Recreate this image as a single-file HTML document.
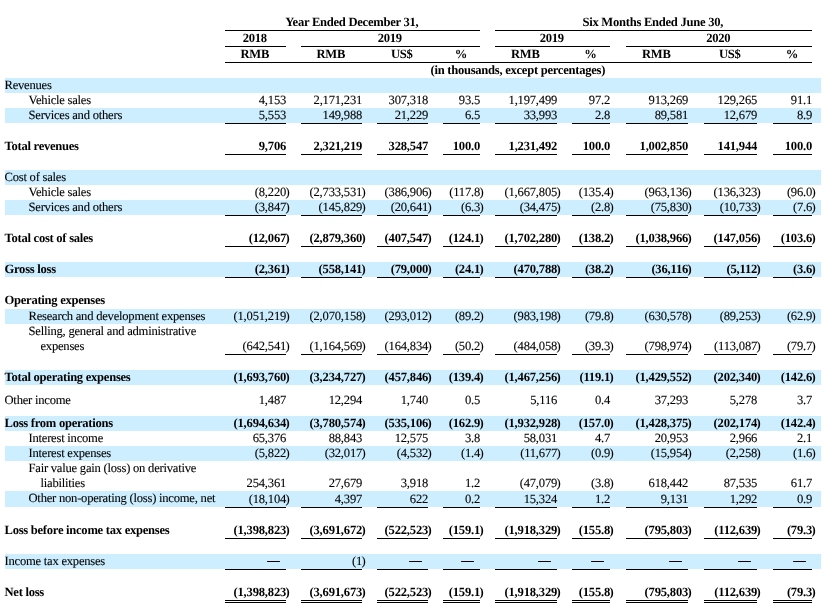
<!DOCTYPE html>
<html lang="en"><head><meta charset="utf-8"><title>Summary Consolidated Statements of Comprehensive Loss</title>
<style>
html,body{margin:0;padding:0;background:#fff;}
body{width:822px;height:613px;position:relative;overflow:hidden;font-family:'Liberation Serif', 'Times New Roman', serif;font-size:12.6px;text-rendering:geometricPrecision;color:#000;}
.bg{position:absolute;left:5px;width:816px;background:#cceeff;}
.ln{position:absolute;background:#000;}
.t{position:absolute;line-height:15px;height:15px;white-space:nowrap;letter-spacing:-0.2px;-webkit-text-stroke:0.1px #000;}
.b{font-weight:bold;-webkit-text-stroke:0;}
.c{text-align:center;}
.r{text-align:right;}
.lab{letter-spacing:-0.23px;}
.lab.b{letter-spacing:-0.27px;}
.d{-webkit-text-stroke:0.5px #000;font-size:12px;text-rendering:auto;letter-spacing:0;}
</style></head><body>
<div class="t c lab b" style="top:15px;left:184.3px;width:335px">Year Ended December 31,</div>
<div class="t c lab b" style="top:15px;left:454.3px;width:397px">Six Months Ended June 30,</div>
<div class="ln" style="top:30px;left:225px;width:255px;height:1px"></div>
<div class="ln" style="top:30px;left:495px;width:317px;height:1px"></div>
<div class="t c lab b" style="top:31px;left:184.3px;width:141px">2018</div>
<div class="ln" style="top:46px;left:225px;width:61px;height:1px"></div>
<div class="t c lab b" style="top:31px;left:260.3px;width:259px">2019</div>
<div class="ln" style="top:46px;left:301px;width:179px;height:1px"></div>
<div class="t c lab b" style="top:31px;left:454.3px;width:195px">2019</div>
<div class="ln" style="top:46px;left:495px;width:115px;height:1px"></div>
<div class="t c lab b" style="top:31px;left:585.3px;width:266px">2020</div>
<div class="ln" style="top:46px;left:626px;width:186px;height:1px"></div>
<div class="t c lab b" style="top:47px;left:184.3px;width:141px">RMB</div>
<div class="t c lab b" style="top:47px;left:260.3px;width:141px">RMB</div>
<div class="t c lab b" style="top:47px;left:336.3px;width:131px">US$</div>
<div class="t c lab b" style="top:47px;left:402.3px;width:117px">%</div>
<div class="t c lab b" style="top:47px;left:454.3px;width:142px">RMB</div>
<div class="t c lab b" style="top:47px;left:531.3px;width:118px">%</div>
<div class="t c lab b" style="top:47px;left:585.3px;width:142px">RMB</div>
<div class="t c lab b" style="top:47px;left:663.3px;width:133px">US$</div>
<div class="t c lab b" style="top:47px;left:732.3px;width:119px">%</div>
<div class="ln" style="top:62px;left:225px;width:587px;height:1px"></div>
<div class="t c lab b" style="top:63px;left:184.3px;width:667px">(in thousands, except percentages)</div>
<div class="bg" style="top:78px;height:15px"></div>
<div class="bg" style="top:108px;height:15px"></div>
<div class="bg" style="top:170px;height:15px"></div>
<div class="bg" style="top:200px;height:15px"></div>
<div class="bg" style="top:262px;height:15px"></div>
<div class="bg" style="top:309px;height:15px"></div>
<div class="bg" style="top:370px;height:15px"></div>
<div class="bg" style="top:416px;height:15px"></div>
<div class="bg" style="top:446px;height:15px"></div>
<div class="bg" style="top:491px;height:16px"></div>
<div class="bg" style="top:554px;height:15px"></div>
<div class="t lab" style="top:78px;left:4.5px">Revenues</div>
<div class="t lab" style="top:93px;left:28.5px">Vehicle sales</div>
<div class="t r" style="top:93px;right:535.9px">4,153</div>
<div class="t r" style="top:93px;right:459.9px">2,171,231</div>
<div class="t r" style="top:93px;right:393.9px">307,318</div>
<div class="t r" style="top:93px;right:341.9px">93.5</div>
<div class="t r" style="top:93px;right:264.9px">1,197,499</div>
<div class="t r" style="top:93px;right:211.9px">97.2</div>
<div class="t r" style="top:93px;right:133.9px">913,269</div>
<div class="t r" style="top:93px;right:64.9px">129,265</div>
<div class="t r" style="top:93px;right:9.9px">91.1</div>
<div class="t lab" style="top:108px;left:28.5px">Services and others</div>
<div class="t r" style="top:108px;right:535.9px">5,553</div>
<div class="t r" style="top:108px;right:459.9px">149,988</div>
<div class="t r" style="top:108px;right:393.9px">21,229</div>
<div class="t r" style="top:108px;right:341.9px">6.5</div>
<div class="t r" style="top:108px;right:264.9px">33,993</div>
<div class="t r" style="top:108px;right:211.9px">2.8</div>
<div class="t r" style="top:108px;right:133.9px">89,581</div>
<div class="t r" style="top:108px;right:64.9px">12,679</div>
<div class="t r" style="top:108px;right:9.9px">8.9</div>
<div class="ln" style="top:123px;left:225px;width:61px;height:1px"></div>
<div class="ln" style="top:123px;left:301px;width:61px;height:1px"></div>
<div class="ln" style="top:123px;left:377px;width:51px;height:1px"></div>
<div class="ln" style="top:123px;left:443px;width:37px;height:1px"></div>
<div class="ln" style="top:123px;left:495px;width:62px;height:1px"></div>
<div class="ln" style="top:123px;left:572px;width:38px;height:1px"></div>
<div class="ln" style="top:123px;left:626px;width:62px;height:1px"></div>
<div class="ln" style="top:123px;left:704px;width:53px;height:1px"></div>
<div class="ln" style="top:123px;left:773px;width:39px;height:1px"></div>
<div class="t lab b" style="top:139px;left:4.5px">Total revenues</div>
<div class="t r b" style="top:139px;right:535.9px">9,706</div>
<div class="t r b" style="top:139px;right:459.9px">2,321,219</div>
<div class="t r b" style="top:139px;right:393.9px">328,547</div>
<div class="t r b" style="top:139px;right:341.9px">100.0</div>
<div class="t r b" style="top:139px;right:264.9px">1,231,492</div>
<div class="t r b" style="top:139px;right:211.9px">100.0</div>
<div class="t r b" style="top:139px;right:133.9px">1,002,850</div>
<div class="t r b" style="top:139px;right:64.9px">141,944</div>
<div class="t r b" style="top:139px;right:9.9px">100.0</div>
<div class="ln" style="top:154px;left:225px;width:61px;height:1px"></div>
<div class="ln" style="top:154px;left:301px;width:61px;height:1px"></div>
<div class="ln" style="top:154px;left:377px;width:51px;height:1px"></div>
<div class="ln" style="top:154px;left:443px;width:37px;height:1px"></div>
<div class="ln" style="top:154px;left:495px;width:62px;height:1px"></div>
<div class="ln" style="top:154px;left:572px;width:38px;height:1px"></div>
<div class="ln" style="top:154px;left:626px;width:62px;height:1px"></div>
<div class="ln" style="top:154px;left:704px;width:53px;height:1px"></div>
<div class="ln" style="top:154px;left:773px;width:39px;height:1px"></div>
<div class="t lab" style="top:170px;left:4.5px">Cost of sales</div>
<div class="t lab" style="top:185px;left:28.5px">Vehicle sales</div>
<div class="t r" style="top:185px;right:535.9px">(8,220</div>
<div class="t" style="top:185px;left:285.5px">)</div>
<div class="t r" style="top:185px;right:459.9px">(2,733,531</div>
<div class="t" style="top:185px;left:361.5px">)</div>
<div class="t r" style="top:185px;right:393.9px">(386,906</div>
<div class="t" style="top:185px;left:427.5px">)</div>
<div class="t r" style="top:185px;right:341.9px">(117.8</div>
<div class="t" style="top:185px;left:479.5px">)</div>
<div class="t r" style="top:185px;right:264.9px">(1,667,805</div>
<div class="t" style="top:185px;left:556.5px">)</div>
<div class="t r" style="top:185px;right:211.9px">(135.4</div>
<div class="t" style="top:185px;left:609.5px">)</div>
<div class="t r" style="top:185px;right:133.9px">(963,136</div>
<div class="t" style="top:185px;left:687.5px">)</div>
<div class="t r" style="top:185px;right:64.9px">(136,323</div>
<div class="t" style="top:185px;left:756.5px">)</div>
<div class="t r" style="top:185px;right:9.9px">(96.0</div>
<div class="t" style="top:185px;left:811.5px">)</div>
<div class="t lab" style="top:200px;left:28.5px">Services and others</div>
<div class="t r" style="top:200px;right:535.9px">(3,847</div>
<div class="t" style="top:200px;left:285.5px">)</div>
<div class="t r" style="top:200px;right:459.9px">(145,829</div>
<div class="t" style="top:200px;left:361.5px">)</div>
<div class="t r" style="top:200px;right:393.9px">(20,641</div>
<div class="t" style="top:200px;left:427.5px">)</div>
<div class="t r" style="top:200px;right:341.9px">(6.3</div>
<div class="t" style="top:200px;left:479.5px">)</div>
<div class="t r" style="top:200px;right:264.9px">(34,475</div>
<div class="t" style="top:200px;left:556.5px">)</div>
<div class="t r" style="top:200px;right:211.9px">(2.8</div>
<div class="t" style="top:200px;left:609.5px">)</div>
<div class="t r" style="top:200px;right:133.9px">(75,830</div>
<div class="t" style="top:200px;left:687.5px">)</div>
<div class="t r" style="top:200px;right:64.9px">(10,733</div>
<div class="t" style="top:200px;left:756.5px">)</div>
<div class="t r" style="top:200px;right:9.9px">(7.6</div>
<div class="t" style="top:200px;left:811.5px">)</div>
<div class="ln" style="top:215px;left:225px;width:61px;height:1px"></div>
<div class="ln" style="top:215px;left:301px;width:61px;height:1px"></div>
<div class="ln" style="top:215px;left:377px;width:51px;height:1px"></div>
<div class="ln" style="top:215px;left:443px;width:37px;height:1px"></div>
<div class="ln" style="top:215px;left:495px;width:62px;height:1px"></div>
<div class="ln" style="top:215px;left:572px;width:38px;height:1px"></div>
<div class="ln" style="top:215px;left:626px;width:62px;height:1px"></div>
<div class="ln" style="top:215px;left:704px;width:53px;height:1px"></div>
<div class="ln" style="top:215px;left:773px;width:39px;height:1px"></div>
<div class="t lab b" style="top:231px;left:4.5px">Total cost of sales</div>
<div class="t r b" style="top:231px;right:535.9px">(12,067</div>
<div class="t b" style="top:231px;left:285.5px">)</div>
<div class="t r b" style="top:231px;right:459.9px">(2,879,360</div>
<div class="t b" style="top:231px;left:361.5px">)</div>
<div class="t r b" style="top:231px;right:393.9px">(407,547</div>
<div class="t b" style="top:231px;left:427.5px">)</div>
<div class="t r b" style="top:231px;right:341.9px">(124.1</div>
<div class="t b" style="top:231px;left:479.5px">)</div>
<div class="t r b" style="top:231px;right:264.9px">(1,702,280</div>
<div class="t b" style="top:231px;left:556.5px">)</div>
<div class="t r b" style="top:231px;right:211.9px">(138.2</div>
<div class="t b" style="top:231px;left:609.5px">)</div>
<div class="t r b" style="top:231px;right:133.9px">(1,038,966</div>
<div class="t b" style="top:231px;left:687.5px">)</div>
<div class="t r b" style="top:231px;right:64.9px">(147,056</div>
<div class="t b" style="top:231px;left:756.5px">)</div>
<div class="t r b" style="top:231px;right:9.9px">(103.6</div>
<div class="t b" style="top:231px;left:811.5px">)</div>
<div class="ln" style="top:246px;left:225px;width:61px;height:1px"></div>
<div class="ln" style="top:246px;left:301px;width:61px;height:1px"></div>
<div class="ln" style="top:246px;left:377px;width:51px;height:1px"></div>
<div class="ln" style="top:246px;left:443px;width:37px;height:1px"></div>
<div class="ln" style="top:246px;left:495px;width:62px;height:1px"></div>
<div class="ln" style="top:246px;left:572px;width:38px;height:1px"></div>
<div class="ln" style="top:246px;left:626px;width:62px;height:1px"></div>
<div class="ln" style="top:246px;left:704px;width:53px;height:1px"></div>
<div class="ln" style="top:246px;left:773px;width:39px;height:1px"></div>
<div class="t lab b" style="top:262px;left:4.5px">Gross loss</div>
<div class="t r b" style="top:262px;right:535.9px">(2,361</div>
<div class="t b" style="top:262px;left:285.5px">)</div>
<div class="t r b" style="top:262px;right:459.9px">(558,141</div>
<div class="t b" style="top:262px;left:361.5px">)</div>
<div class="t r b" style="top:262px;right:393.9px">(79,000</div>
<div class="t b" style="top:262px;left:427.5px">)</div>
<div class="t r b" style="top:262px;right:341.9px">(24.1</div>
<div class="t b" style="top:262px;left:479.5px">)</div>
<div class="t r b" style="top:262px;right:264.9px">(470,788</div>
<div class="t b" style="top:262px;left:556.5px">)</div>
<div class="t r b" style="top:262px;right:211.9px">(38.2</div>
<div class="t b" style="top:262px;left:609.5px">)</div>
<div class="t r b" style="top:262px;right:133.9px">(36,116</div>
<div class="t b" style="top:262px;left:687.5px">)</div>
<div class="t r b" style="top:262px;right:64.9px">(5,112</div>
<div class="t b" style="top:262px;left:756.5px">)</div>
<div class="t r b" style="top:262px;right:9.9px">(3.6</div>
<div class="t b" style="top:262px;left:811.5px">)</div>
<div class="ln" style="top:277px;left:225px;width:61px;height:1px"></div>
<div class="ln" style="top:277px;left:301px;width:61px;height:1px"></div>
<div class="ln" style="top:277px;left:377px;width:51px;height:1px"></div>
<div class="ln" style="top:277px;left:443px;width:37px;height:1px"></div>
<div class="ln" style="top:277px;left:495px;width:62px;height:1px"></div>
<div class="ln" style="top:277px;left:572px;width:38px;height:1px"></div>
<div class="ln" style="top:277px;left:626px;width:62px;height:1px"></div>
<div class="ln" style="top:277px;left:704px;width:53px;height:1px"></div>
<div class="ln" style="top:277px;left:773px;width:39px;height:1px"></div>
<div class="t lab b" style="top:293px;left:4.5px">Operating expenses</div>
<div class="t lab" style="top:309px;left:28.5px">Research and development expenses</div>
<div class="t r" style="top:309px;right:535.9px">(1,051,219</div>
<div class="t" style="top:309px;left:285.5px">)</div>
<div class="t r" style="top:309px;right:459.9px">(2,070,158</div>
<div class="t" style="top:309px;left:361.5px">)</div>
<div class="t r" style="top:309px;right:393.9px">(293,012</div>
<div class="t" style="top:309px;left:427.5px">)</div>
<div class="t r" style="top:309px;right:341.9px">(89.2</div>
<div class="t" style="top:309px;left:479.5px">)</div>
<div class="t r" style="top:309px;right:264.9px">(983,198</div>
<div class="t" style="top:309px;left:556.5px">)</div>
<div class="t r" style="top:309px;right:211.9px">(79.8</div>
<div class="t" style="top:309px;left:609.5px">)</div>
<div class="t r" style="top:309px;right:133.9px">(630,578</div>
<div class="t" style="top:309px;left:687.5px">)</div>
<div class="t r" style="top:309px;right:64.9px">(89,253</div>
<div class="t" style="top:309px;left:756.5px">)</div>
<div class="t r" style="top:309px;right:9.9px">(62.9</div>
<div class="t" style="top:309px;left:811.5px">)</div>
<div class="t lab" style="top:324px;left:28.5px">Selling, general and administrative</div>
<div class="t lab" style="top:339px;left:40.5px">expenses</div>
<div class="t r" style="top:339px;right:535.9px">(642,541</div>
<div class="t" style="top:339px;left:285.5px">)</div>
<div class="t r" style="top:339px;right:459.9px">(1,164,569</div>
<div class="t" style="top:339px;left:361.5px">)</div>
<div class="t r" style="top:339px;right:393.9px">(164,834</div>
<div class="t" style="top:339px;left:427.5px">)</div>
<div class="t r" style="top:339px;right:341.9px">(50.2</div>
<div class="t" style="top:339px;left:479.5px">)</div>
<div class="t r" style="top:339px;right:264.9px">(484,058</div>
<div class="t" style="top:339px;left:556.5px">)</div>
<div class="t r" style="top:339px;right:211.9px">(39.3</div>
<div class="t" style="top:339px;left:609.5px">)</div>
<div class="t r" style="top:339px;right:133.9px">(798,974</div>
<div class="t" style="top:339px;left:687.5px">)</div>
<div class="t r" style="top:339px;right:64.9px">(113,087</div>
<div class="t" style="top:339px;left:756.5px">)</div>
<div class="t r" style="top:339px;right:9.9px">(79.7</div>
<div class="t" style="top:339px;left:811.5px">)</div>
<div class="ln" style="top:354px;left:225px;width:61px;height:1px"></div>
<div class="ln" style="top:354px;left:301px;width:61px;height:1px"></div>
<div class="ln" style="top:354px;left:377px;width:51px;height:1px"></div>
<div class="ln" style="top:354px;left:443px;width:37px;height:1px"></div>
<div class="ln" style="top:354px;left:495px;width:62px;height:1px"></div>
<div class="ln" style="top:354px;left:572px;width:38px;height:1px"></div>
<div class="ln" style="top:354px;left:626px;width:62px;height:1px"></div>
<div class="ln" style="top:354px;left:704px;width:53px;height:1px"></div>
<div class="ln" style="top:354px;left:773px;width:39px;height:1px"></div>
<div class="t lab b" style="top:370px;left:4.5px">Total operating expenses</div>
<div class="t r b" style="top:370px;right:535.9px">(1,693,760</div>
<div class="t b" style="top:370px;left:285.5px">)</div>
<div class="t r b" style="top:370px;right:459.9px">(3,234,727</div>
<div class="t b" style="top:370px;left:361.5px">)</div>
<div class="t r b" style="top:370px;right:393.9px">(457,846</div>
<div class="t b" style="top:370px;left:427.5px">)</div>
<div class="t r b" style="top:370px;right:341.9px">(139.4</div>
<div class="t b" style="top:370px;left:479.5px">)</div>
<div class="t r b" style="top:370px;right:264.9px">(1,467,256</div>
<div class="t b" style="top:370px;left:556.5px">)</div>
<div class="t r b" style="top:370px;right:211.9px">(119.1</div>
<div class="t b" style="top:370px;left:609.5px">)</div>
<div class="t r b" style="top:370px;right:133.9px">(1,429,552</div>
<div class="t b" style="top:370px;left:687.5px">)</div>
<div class="t r b" style="top:370px;right:64.9px">(202,340</div>
<div class="t b" style="top:370px;left:756.5px">)</div>
<div class="t r b" style="top:370px;right:9.9px">(142.6</div>
<div class="t b" style="top:370px;left:811.5px">)</div>
<div class="t lab" style="top:393px;left:4.5px">Other income</div>
<div class="t r" style="top:393px;right:535.9px">1,487</div>
<div class="t r" style="top:393px;right:459.9px">12,294</div>
<div class="t r" style="top:393px;right:393.9px">1,740</div>
<div class="t r" style="top:393px;right:341.9px">0.5</div>
<div class="t r" style="top:393px;right:264.9px">5,116</div>
<div class="t r" style="top:393px;right:211.9px">0.4</div>
<div class="t r" style="top:393px;right:133.9px">37,293</div>
<div class="t r" style="top:393px;right:64.9px">5,278</div>
<div class="t r" style="top:393px;right:9.9px">3.7</div>
<div class="t lab b" style="top:416px;left:4.5px">Loss from operations</div>
<div class="t r b" style="top:416px;right:535.9px">(1,694,634</div>
<div class="t b" style="top:416px;left:285.5px">)</div>
<div class="t r b" style="top:416px;right:459.9px">(3,780,574</div>
<div class="t b" style="top:416px;left:361.5px">)</div>
<div class="t r b" style="top:416px;right:393.9px">(535,106</div>
<div class="t b" style="top:416px;left:427.5px">)</div>
<div class="t r b" style="top:416px;right:341.9px">(162.9</div>
<div class="t b" style="top:416px;left:479.5px">)</div>
<div class="t r b" style="top:416px;right:264.9px">(1,932,928</div>
<div class="t b" style="top:416px;left:556.5px">)</div>
<div class="t r b" style="top:416px;right:211.9px">(157.0</div>
<div class="t b" style="top:416px;left:609.5px">)</div>
<div class="t r b" style="top:416px;right:133.9px">(1,428,375</div>
<div class="t b" style="top:416px;left:687.5px">)</div>
<div class="t r b" style="top:416px;right:64.9px">(202,174</div>
<div class="t b" style="top:416px;left:756.5px">)</div>
<div class="t r b" style="top:416px;right:9.9px">(142.4</div>
<div class="t b" style="top:416px;left:811.5px">)</div>
<div class="t lab" style="top:431px;left:28.5px">Interest income</div>
<div class="t r" style="top:431px;right:535.9px">65,376</div>
<div class="t r" style="top:431px;right:459.9px">88,843</div>
<div class="t r" style="top:431px;right:393.9px">12,575</div>
<div class="t r" style="top:431px;right:341.9px">3.8</div>
<div class="t r" style="top:431px;right:264.9px">58,031</div>
<div class="t r" style="top:431px;right:211.9px">4.7</div>
<div class="t r" style="top:431px;right:133.9px">20,953</div>
<div class="t r" style="top:431px;right:64.9px">2,966</div>
<div class="t r" style="top:431px;right:9.9px">2.1</div>
<div class="t lab" style="top:446px;left:28.5px">Interest expenses</div>
<div class="t r" style="top:446px;right:535.9px">(5,822</div>
<div class="t" style="top:446px;left:285.5px">)</div>
<div class="t r" style="top:446px;right:459.9px">(32,017</div>
<div class="t" style="top:446px;left:361.5px">)</div>
<div class="t r" style="top:446px;right:393.9px">(4,532</div>
<div class="t" style="top:446px;left:427.5px">)</div>
<div class="t r" style="top:446px;right:341.9px">(1.4</div>
<div class="t" style="top:446px;left:479.5px">)</div>
<div class="t r" style="top:446px;right:264.9px">(11,677</div>
<div class="t" style="top:446px;left:556.5px">)</div>
<div class="t r" style="top:446px;right:211.9px">(0.9</div>
<div class="t" style="top:446px;left:609.5px">)</div>
<div class="t r" style="top:446px;right:133.9px">(15,954</div>
<div class="t" style="top:446px;left:687.5px">)</div>
<div class="t r" style="top:446px;right:64.9px">(2,258</div>
<div class="t" style="top:446px;left:756.5px">)</div>
<div class="t r" style="top:446px;right:9.9px">(1.6</div>
<div class="t" style="top:446px;left:811.5px">)</div>
<div class="t lab" style="top:461px;left:28.5px">Fair value gain (loss) on derivative</div>
<div class="t lab" style="top:476px;left:40.5px">liabilities</div>
<div class="t r" style="top:476px;right:535.9px">254,361</div>
<div class="t r" style="top:476px;right:459.9px">27,679</div>
<div class="t r" style="top:476px;right:393.9px">3,918</div>
<div class="t r" style="top:476px;right:341.9px">1.2</div>
<div class="t r" style="top:476px;right:264.9px">(47,079</div>
<div class="t" style="top:476px;left:556.5px">)</div>
<div class="t r" style="top:476px;right:211.9px">(3.8</div>
<div class="t" style="top:476px;left:609.5px">)</div>
<div class="t r" style="top:476px;right:133.9px">618,442</div>
<div class="t r" style="top:476px;right:64.9px">87,535</div>
<div class="t r" style="top:476px;right:9.9px">61.7</div>
<div class="t lab" style="top:491px;left:28.5px">Other non-operating (loss) income, net</div>
<div class="t r" style="top:492px;right:535.9px">(18,104</div>
<div class="t" style="top:492px;left:285.5px">)</div>
<div class="t r" style="top:492px;right:459.9px">4,397</div>
<div class="t r" style="top:492px;right:393.9px">622</div>
<div class="t r" style="top:492px;right:341.9px">0.2</div>
<div class="t r" style="top:492px;right:264.9px">15,324</div>
<div class="t r" style="top:492px;right:211.9px">1.2</div>
<div class="t r" style="top:492px;right:133.9px">9,131</div>
<div class="t r" style="top:492px;right:64.9px">1,292</div>
<div class="t r" style="top:492px;right:9.9px">0.9</div>
<div class="ln" style="top:507px;left:225px;width:61px;height:1px"></div>
<div class="ln" style="top:507px;left:301px;width:61px;height:1px"></div>
<div class="ln" style="top:507px;left:377px;width:51px;height:1px"></div>
<div class="ln" style="top:507px;left:443px;width:37px;height:1px"></div>
<div class="ln" style="top:507px;left:495px;width:62px;height:1px"></div>
<div class="ln" style="top:507px;left:572px;width:38px;height:1px"></div>
<div class="ln" style="top:507px;left:626px;width:62px;height:1px"></div>
<div class="ln" style="top:507px;left:704px;width:53px;height:1px"></div>
<div class="ln" style="top:507px;left:773px;width:39px;height:1px"></div>
<div class="t lab b" style="top:523px;left:4.5px">Loss before income tax expenses</div>
<div class="t r b" style="top:523px;right:535.9px">(1,398,823</div>
<div class="t b" style="top:523px;left:285.5px">)</div>
<div class="t r b" style="top:523px;right:459.9px">(3,691,672</div>
<div class="t b" style="top:523px;left:361.5px">)</div>
<div class="t r b" style="top:523px;right:393.9px">(522,523</div>
<div class="t b" style="top:523px;left:427.5px">)</div>
<div class="t r b" style="top:523px;right:341.9px">(159.1</div>
<div class="t b" style="top:523px;left:479.5px">)</div>
<div class="t r b" style="top:523px;right:264.9px">(1,918,329</div>
<div class="t b" style="top:523px;left:556.5px">)</div>
<div class="t r b" style="top:523px;right:211.9px">(155.8</div>
<div class="t b" style="top:523px;left:609.5px">)</div>
<div class="t r b" style="top:523px;right:133.9px">(795,803</div>
<div class="t b" style="top:523px;left:687.5px">)</div>
<div class="t r b" style="top:523px;right:64.9px">(112,639</div>
<div class="t b" style="top:523px;left:756.5px">)</div>
<div class="t r b" style="top:523px;right:9.9px">(79.3</div>
<div class="t b" style="top:523px;left:811.5px">)</div>
<div class="ln" style="top:538px;left:225px;width:61px;height:1px"></div>
<div class="ln" style="top:538px;left:301px;width:61px;height:1px"></div>
<div class="ln" style="top:538px;left:377px;width:51px;height:1px"></div>
<div class="ln" style="top:538px;left:443px;width:37px;height:1px"></div>
<div class="ln" style="top:538px;left:495px;width:62px;height:1px"></div>
<div class="ln" style="top:538px;left:572px;width:38px;height:1px"></div>
<div class="ln" style="top:538px;left:626px;width:62px;height:1px"></div>
<div class="ln" style="top:538px;left:704px;width:53px;height:1px"></div>
<div class="ln" style="top:538px;left:773px;width:39px;height:1px"></div>
<div class="t lab" style="top:554px;left:4.5px">Income tax expenses</div>
<div class="t r d" style="top:553px;right:542.5px">—</div>
<div class="t r" style="top:554px;right:459.9px">(1</div>
<div class="t" style="top:554px;left:361.5px">)</div>
<div class="t r d" style="top:553px;right:400.5px">—</div>
<div class="t r d" style="top:553px;right:348.5px">—</div>
<div class="t r d" style="top:553px;right:271.5px">—</div>
<div class="t r d" style="top:553px;right:218.5px">—</div>
<div class="t r d" style="top:553px;right:140.5px">—</div>
<div class="t r d" style="top:553px;right:71.5px">—</div>
<div class="t r d" style="top:553px;right:16.5px">—</div>
<div class="ln" style="top:569px;left:225px;width:61px;height:1px"></div>
<div class="ln" style="top:569px;left:301px;width:61px;height:1px"></div>
<div class="ln" style="top:569px;left:377px;width:51px;height:1px"></div>
<div class="ln" style="top:569px;left:443px;width:37px;height:1px"></div>
<div class="ln" style="top:569px;left:495px;width:62px;height:1px"></div>
<div class="ln" style="top:569px;left:572px;width:38px;height:1px"></div>
<div class="ln" style="top:569px;left:626px;width:62px;height:1px"></div>
<div class="ln" style="top:569px;left:704px;width:53px;height:1px"></div>
<div class="ln" style="top:569px;left:773px;width:39px;height:1px"></div>
<div class="t lab b" style="top:585px;left:4.5px">Net loss</div>
<div class="t r b" style="top:585px;right:535.9px">(1,398,823</div>
<div class="t b" style="top:585px;left:285.5px">)</div>
<div class="t r b" style="top:585px;right:459.9px">(3,691,673</div>
<div class="t b" style="top:585px;left:361.5px">)</div>
<div class="t r b" style="top:585px;right:393.9px">(522,523</div>
<div class="t b" style="top:585px;left:427.5px">)</div>
<div class="t r b" style="top:585px;right:341.9px">(159.1</div>
<div class="t b" style="top:585px;left:479.5px">)</div>
<div class="t r b" style="top:585px;right:264.9px">(1,918,329</div>
<div class="t b" style="top:585px;left:556.5px">)</div>
<div class="t r b" style="top:585px;right:211.9px">(155.8</div>
<div class="t b" style="top:585px;left:609.5px">)</div>
<div class="t r b" style="top:585px;right:133.9px">(795,803</div>
<div class="t b" style="top:585px;left:687.5px">)</div>
<div class="t r b" style="top:585px;right:64.9px">(112,639</div>
<div class="t b" style="top:585px;left:756.5px">)</div>
<div class="t r b" style="top:585px;right:9.9px">(79.3</div>
<div class="t b" style="top:585px;left:811.5px">)</div>
<div class="ln" style="top:600px;left:225px;width:61px;height:1px"></div>
<div class="ln" style="top:602px;left:225px;width:61px;height:1px"></div>
<div class="ln" style="top:600px;left:301px;width:61px;height:1px"></div>
<div class="ln" style="top:602px;left:301px;width:61px;height:1px"></div>
<div class="ln" style="top:600px;left:377px;width:51px;height:1px"></div>
<div class="ln" style="top:602px;left:377px;width:51px;height:1px"></div>
<div class="ln" style="top:600px;left:443px;width:37px;height:1px"></div>
<div class="ln" style="top:602px;left:443px;width:37px;height:1px"></div>
<div class="ln" style="top:600px;left:495px;width:62px;height:1px"></div>
<div class="ln" style="top:602px;left:495px;width:62px;height:1px"></div>
<div class="ln" style="top:600px;left:572px;width:38px;height:1px"></div>
<div class="ln" style="top:602px;left:572px;width:38px;height:1px"></div>
<div class="ln" style="top:600px;left:626px;width:62px;height:1px"></div>
<div class="ln" style="top:602px;left:626px;width:62px;height:1px"></div>
<div class="ln" style="top:600px;left:704px;width:53px;height:1px"></div>
<div class="ln" style="top:602px;left:704px;width:53px;height:1px"></div>
<div class="ln" style="top:600px;left:773px;width:39px;height:1px"></div>
<div class="ln" style="top:602px;left:773px;width:39px;height:1px"></div>
</body></html>
